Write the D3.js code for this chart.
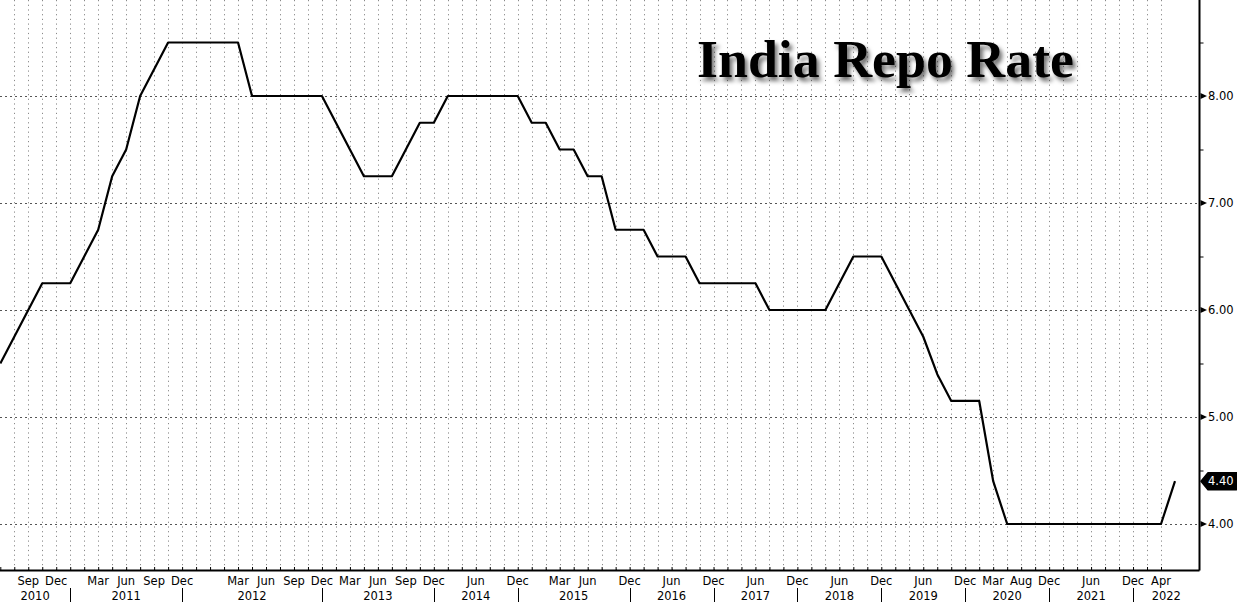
<!DOCTYPE html>
<html>
<head>
<meta charset="utf-8">
<script src="https://cdn.jsdelivr.net/npm/d3@7"></script>
<style>
  html, body { margin: 0; padding: 0; background: #fff; }
  svg { display: block; }
</style>
</head>
<body>
<svg id="chart" width="1237" height="602"></svg>
<script>
// ---- data (one value per policy observation, evenly spaced) ----
const rates = [
  5.50, 5.75, 6.00, 6.25, 6.25, 6.25, 6.50, 6.75, 7.25, 7.50,
  8.00, 8.25, 8.50, 8.50, 8.50, 8.50, 8.50, 8.50, 8.00, 8.00,
  8.00, 8.00, 8.00, 8.00, 7.75, 7.50, 7.25, 7.25, 7.25, 7.50,
  7.75, 7.75, 8.00, 8.00, 8.00, 8.00, 8.00, 8.00, 7.75, 7.75,
  7.50, 7.50, 7.25, 7.25, 6.75, 6.75, 6.75, 6.50, 6.50, 6.50,
  6.25, 6.25, 6.25, 6.25, 6.25, 6.00, 6.00, 6.00, 6.00, 6.00,
  6.25, 6.50, 6.50, 6.50, 6.25, 6.00, 5.75, 5.40, 5.15, 5.15,
  5.15, 4.40, 4.00, 4.00, 4.00, 4.00, 4.00, 4.00, 4.00, 4.00,
  4.00, 4.00, 4.00, 4.00, 4.40
];
const monthLabels = ["Sep","Dec","Mar","Jun","Sep","Dec","Mar","Jun","Sep","Dec","Mar","Jun","Sep",
  "Dec","Jun","Dec","Mar","Jun","Dec","Jun","Dec","Jun","Dec","Jun","Dec","Jun","Dec","Mar","Aug","Dec","Jun","Dec","Apr"];
const monthIndex = [2,4,7,9,11,13,17,19,21,23,25,27,29,
  31,34,37,40,42,45,48,51,54,57,60,63,66,69,71,73,75,78,81,83];
const yearLabels = ["2010","2011","2012","2013","2014","2015","2016","2017","2018","2019","2020","2021","2022"];
const yearStart = [0,5,13,23,31,37,45,51,57,63,69,75,81];
const yMajorTicks = [4, 5, 6, 7, 8];
const yMinorTicks = [4.5, 5.5, 6.5, 7.5, 8.5];
const lastValue = 4.40;
const titleText = "India Repo Rate";

// ---- layout ----
const svg = d3.select("#chart");
const plotRight = 1199.5, plotBottom = 570.5;
const x = d3.scaleLinear().domain([0, rates.length - 1]).range([0.3, 1175]);
const y = d3.scaleLinear().domain([4, 8]).range([524, 96]);
const font = "'DejaVu Sans', Verdana, sans-serif";
const fs = 11.5;

// shadow filter for title
const defs = svg.append("defs");
const f = defs.append("filter").attr("id", "shadow").attr("x", "-10%").attr("y", "-30%").attr("width", "130%").attr("height", "170%");
f.append("feDropShadow").attr("dx", 3).attr("dy", 4).attr("stdDeviation", 2.2)
  .attr("flood-color", "#000").attr("flood-opacity", 0.55);

// vertical grid
const gridIdx = d3.range(1, rates.length - 1);
svg.append("g").selectAll("line").data(gridIdx).join("line")
  .attr("x1", d => Math.round(x(d)) + 0.5).attr("x2", d => Math.round(x(d)) + 0.5)
  .attr("y1", 0).attr("y2", plotBottom)
  .attr("stroke", "#8a8a8a").attr("stroke-width", 1).attr("stroke-dasharray", "1.2,3.5");

// horizontal grid
svg.append("g").selectAll("line").data(yMajorTicks).join("line")
  .attr("x1", 0).attr("x2", plotRight)
  .attr("y1", d => Math.round(y(d)) + 0.5).attr("y2", d => Math.round(y(d)) + 0.5)
  .attr("stroke", "#555").attr("stroke-width", 1).attr("stroke-dasharray", "2,3");

// title
svg.append("text").attr("x", 697).attr("y", 77)
  .attr("font-family", "'Liberation Serif', 'Times New Roman', serif")
  .attr("font-weight", "bold").attr("font-size", 52)
  .attr("textLength", 377).attr("lengthAdjust", "spacingAndGlyphs")
  .attr("fill", "#000").attr("filter", "url(#shadow)")
  .text(titleText);

// line
const line = d3.line().x((d, i) => x(i)).y(d => y(d));
svg.append("path").datum(rates).attr("d", line)
  .attr("fill", "none").attr("stroke", "#000").attr("stroke-width", 2.2)
  .attr("stroke-linejoin", "round");

// bottom axis (ticks every observation, pointing up)
const xAxis = d3.axisBottom(x).tickValues(d3.range(0, rates.length - 1))
  .tickSizeInner(-3.5).tickSizeOuter(0).tickFormat("");
const gx = svg.append("g").attr("transform", `translate(0,${plotBottom})`).call(xAxis);
gx.select(".domain").attr("d", `M0,0H${plotRight}`).attr("stroke", "#000").attr("stroke-width", 2);
gx.selectAll(".tick line").attr("stroke", "#000");

// month labels
svg.append("g").selectAll("text").data(monthLabels).join("text")
  .attr("x", (d, i) => x(monthIndex[i])).attr("y", 585)
  .attr("text-anchor", "middle").attr("font-family", font).attr("font-size", fs)
  .attr("fill", "#000").text(d => d);

// year labels & separators
const yearEdge = i => (i < yearStart.length - 1 ? x(yearStart[i + 1]) : plotRight);
svg.append("g").selectAll("text").data(yearLabels).join("text")
  .attr("x", (d, i) => ((i === 0 ? 0 : x(yearStart[i])) + yearEdge(i)) / 2)
  .attr("y", 599.5)
  .attr("text-anchor", "middle").attr("font-family", font).attr("font-size", fs)
  .attr("fill", "#000").text(d => d);
svg.append("g").selectAll("line").data(yearStart.slice(1)).join("line")
  .attr("x1", d => Math.round(x(d)) + 0.5).attr("x2", d => Math.round(x(d)) + 0.5)
  .attr("y1", 588).attr("y2", 602).attr("stroke", "#000").attr("stroke-width", 1);

// right axis
const yAxis = d3.axisRight(y).tickValues(yMinorTicks).tickSizeInner(4).tickSizeOuter(0).tickFormat("");
const gy = svg.append("g").attr("transform", `translate(${plotRight},0)`).call(yAxis);
gy.select(".domain").attr("d", `M0,0V${plotBottom}`).attr("stroke", "#000").attr("stroke-width", 2);
gy.selectAll(".tick line").attr("stroke", "#000");

// major ticks: arrows + labels
const maj = svg.append("g").selectAll("g").data(yMajorTicks).join("g")
  .attr("transform", d => `translate(${plotRight},${y(d)})`);
maj.append("path").attr("d", "M1,-3L7.5,0L1,3Z").attr("fill", "#000");
maj.append("text").attr("x", 8.5).attr("dy", "0.36em")
  .attr("font-family", font).attr("font-size", fs).attr("fill", "#000")
  .text(d => d3.format(".2f")(d));

// last value tag
const tag = svg.append("g").attr("transform", `translate(${plotRight},${y(lastValue)})`);
tag.append("path").attr("d", "M1.5,0L8.5,-8.5H37V8.5H8.5Z").attr("fill", "#000")
  .attr("stroke", "#000").attr("stroke-linejoin", "round").attr("stroke-width", 1.5);
tag.append("text").attr("x", 8.5).attr("dy", "0.36em")
  .attr("font-family", font).attr("font-size", fs).attr("fill", "#fff")
  .text(d3.format(".2f")(lastValue));
</script>
</body>
</html>
